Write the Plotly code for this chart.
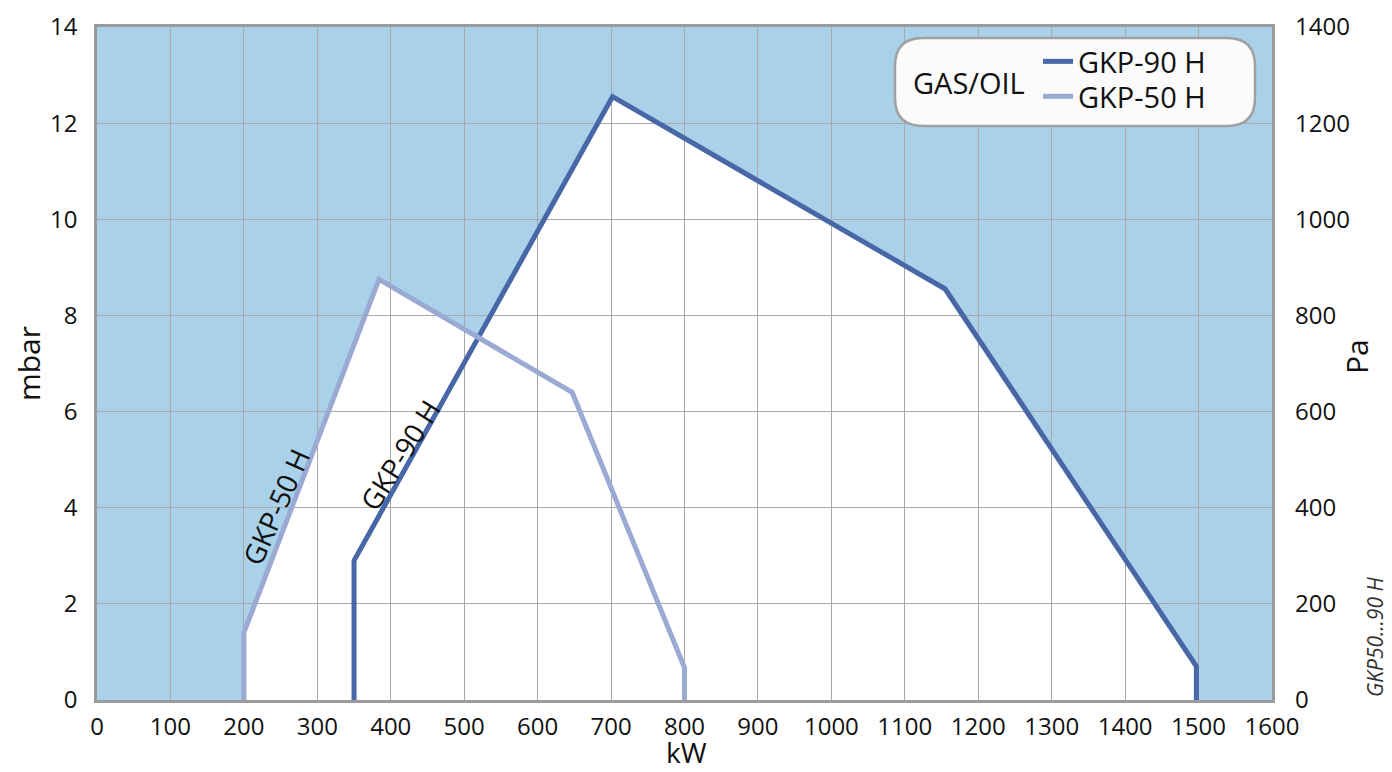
import plotly.graph_objects as go

# ---- data ----
gkp90_kw = [350, 350, 702, 1155, 1497, 1497]
gkp90_mbar = [0, 2.9, 12.55, 8.55, 0.7, 0]
gkp50_kw = [200, 200, 384, 647, 800, 800]
gkp50_mbar = [0, 1.4, 8.75, 6.4, 0.67, 0]

x_ticks = list(range(0, 1601, 100))
y_ticks = list(range(0, 15, 2))
pa_ticks = list(range(0, 1401, 200))

C90 = "#4767a6"
C50 = "#9aaad3"
BG = "#aad1ea"
GRID = "#a8a8a8"
FONT = "Open Sans"

fig = go.Figure()

fig.add_trace(go.Scatter(x=gkp90_kw, y=gkp90_mbar, mode="lines", name="GKP-90 H",
                         line=dict(color=C90, width=5), legend="legend"))
fig.add_trace(go.Scatter(x=gkp50_kw, y=gkp50_mbar, mode="lines", name="GKP-50 H",
                         line=dict(color=C50, width=5), legend="legend2"))
# invisible companion trace so the Pa axis (1 mbar = 100 Pa) is rendered
fig.add_trace(go.Scatter(x=gkp90_kw, y=[v * 100 for v in gkp90_mbar], yaxis="y2",
                         mode="lines", line=dict(width=0), opacity=0,
                         showlegend=False, hoverinfo="skip"))


def poly_path(xs, ys):
    pts = [f"{x},{y}" for x, y in zip(xs, ys)]
    return "M " + " L ".join(pts) + " Z"


shapes = []
for xs, ys in [(gkp90_kw, gkp90_mbar), (gkp50_kw, gkp50_mbar)]:
    shapes.append(dict(type="path", path=poly_path(xs, ys), xref="x", yref="y",
                       fillcolor="white", line=dict(width=0), layer="below"))

# page body has an 8px margin -> figure is 8px smaller and shifted
OFF = 8
FW, FH = 1392 - OFF, 772 - OFF
# plot area in screen pixels
L, R, T, B = 97, 1272, 27, 700
W, H = R - L, B - T
def px(x): return (x - L) / W
def py(y): return (B - y) / H

bx0, bx1, by0, by1 = px(895), px(1255), py(126), py(38)
rx, ry = 28 / W, 28 / H
box = (f"M {bx0+rx},{by0} L {bx1-rx},{by0} Q {bx1},{by0} {bx1},{by0+ry} "
       f"L {bx1},{by1-ry} Q {bx1},{by1} {bx1-rx},{by1} L {bx0+rx},{by1} "
       f"Q {bx0},{by1} {bx0},{by1-ry} L {bx0},{by0+ry} Q {bx0},{by0} {bx0+rx},{by0} Z")
shapes.append(dict(type="path", path=box, xref="paper", yref="paper",
                   fillcolor="#fbfbfb", line=dict(color="#a0a0a0", width=2.5), layer="above"))

annotations = [
    dict(text="GAS/OIL", x=px(969), y=py(82), xref="paper", yref="paper",
         xanchor="center", yanchor="middle",
         showarrow=False, font=dict(family=FONT, size=29, color="#111")),
    dict(text="GKP-50 H", x=243, y=4.02, xref="x", yref="y", showarrow=False,
         xanchor="center", yanchor="middle",
         textangle=-66, font=dict(family=FONT, size=28, color="#111")),
    dict(text="GKP-90 H", x=412, y=5.1, xref="x", yref="y", showarrow=False,
         xanchor="center", yanchor="middle",
         textangle=-58, font=dict(family=FONT, size=28, color="#111")),
    dict(text="Pa", x=px(1356), y=py(357), xref="paper", yref="paper",
         xanchor="center", yanchor="middle",
         showarrow=False, textangle=-90, font=dict(family=FONT, size=30, color="#111")),
    dict(text="kW", x=px(686), y=py(752), xref="paper", yref="paper",
         xanchor="center", yanchor="middle",
         showarrow=False, font=dict(family=FONT, size=28, color="#111")),
    dict(text="<i>GKP50...90 H</i>", x=px(1375), y=py(637), xref="paper", yref="paper",
         xanchor="center", yanchor="middle",
         showarrow=False, textangle=-90, font=dict(family=FONT, size=21, color="#333")),
]

legend_common = dict(xanchor="left", yanchor="top", bgcolor="rgba(0,0,0,0)", borderwidth=0,
                     font=dict(family=FONT, size=29, color="#111"), itemwidth=30)

fig.update_layout(
    width=FW, height=FH,
    margin=dict(l=L - OFF, r=FW - (R - OFF), t=T - OFF, b=FH - (B - OFF), autoexpand=False),
    paper_bgcolor="white", plot_bgcolor=BG,
    font=dict(family=FONT, size=24, color="#111"),
    shapes=shapes, annotations=annotations,
    showlegend=True,
    legend=dict(x=px(1038), y=py(36), **legend_common),
    legend2=dict(x=px(1038), y=py(71), **legend_common),
    xaxis=dict(range=[0, 1600], tickvals=x_ticks, showgrid=True, gridcolor=GRID, gridwidth=1,
               showline=True, linecolor="#9a9a9a", linewidth=2.5, mirror=True,
               ticks="", zeroline=False, ticklabelstandoff=3),
    yaxis=dict(range=[0, 14], tickvals=y_ticks, showgrid=True, gridcolor=GRID, gridwidth=1,
               showline=True, linecolor="#9a9a9a", linewidth=2.5, mirror=True,
               ticks="", zeroline=False, ticklabelstandoff=12,
               title=dict(text="mbar", font=dict(size=30), standoff=2)),
    yaxis2=dict(range=[0, 1400], tickvals=pa_ticks, overlaying="y", side="right",
                showgrid=False, zeroline=False, ticks="", ticklabelstandoff=22,
                ticklabeloverflow="allow"),
)

fig.write_html("out.html")
